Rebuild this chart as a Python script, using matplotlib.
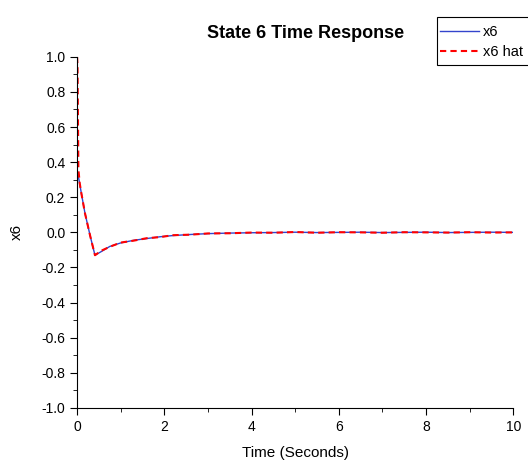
"""State 6 time response: true state vs. estimate."""

import matplotlib.pyplot as plt
from matplotlib.patches import Rectangle
from matplotlib.ticker import MultipleLocator

plt.rcParams["font.family"] = ["Liberation Sans", "DejaVu Sans"]

# true state x6
t = [0.0, 0.05, 0.1, 0.18, 0.3, 0.41, 0.55, 0.75, 1.0, 1.3, 1.6, 1.9, 2.2,
     2.6, 3.0, 3.5, 4.0, 4.5, 5.0, 5.5, 6.0, 6.5, 7.0, 7.5, 8.0, 8.5, 9.0,
     9.5, 10.0]
x6 = [0.36, 0.29, 0.22, 0.11, -0.02, -0.13, -0.11, -0.08, -0.06, -0.045,
      -0.035, -0.025, -0.018, -0.012, -0.007, -0.004, -0.002, -0.001, 0.001,
      -0.001, 0.0, 0.001, -0.001, 0.0, 0.001, -0.001, 0.0, 0.001, 0.0]

# estimate x6 hat
t_hat = [0.0, 0.01, 0.03, 0.06, 0.1, 0.18, 0.3, 0.41, 0.55, 0.75, 1.0, 1.3,
         1.6, 1.9, 2.2, 2.6, 3.0, 3.5, 4.0, 4.5, 5.0, 5.5, 6.0, 6.5, 7.0, 7.5,
         8.0, 8.5, 9.0, 9.5, 10.0]
x6_hat = [1.0, 0.95, 0.36, 0.28, 0.22, 0.11, -0.02, -0.13, -0.105, -0.082,
          -0.058, -0.047, -0.033, -0.027, -0.016, -0.013, -0.006, -0.005,
          -0.001, -0.002, 0.002, -0.002, 0.001, 0.0, -0.002, 0.001, 0.0,
          -0.001, 0.001, -0.001, 0.0]

fig = plt.figure(figsize=(5.28, 4.62), dpi=100)
ax = fig.add_axes([0.146, 0.117, 0.826, 0.76])

ax.plot(t, x6, color="#3344cc", lw=1.0, label="x6")
ax.plot(t_hat, x6_hat, color="#ff0000", lw=1.5, ls="--", dashes=(3, 2),
        label="x6 hat")

ax.set_xlim(0, 10)
ax.set_ylim(-1.0, 1.0)
ax.xaxis.set_major_locator(MultipleLocator(2))
ax.xaxis.set_minor_locator(MultipleLocator(1))
ax.yaxis.set_major_locator(MultipleLocator(0.2))
ax.yaxis.set_minor_locator(MultipleLocator(0.1))
ax.yaxis.set_major_formatter(lambda v, pos: f"{v:.1f}")
ax.tick_params(which="both", direction="out", labelsize=10)
ax.tick_params(which="major", length=5)
ax.tick_params(which="minor", length=3)
ax.spines["top"].set_visible(False)
ax.spines["right"].set_visible(False)

ax.set_xlabel("Time (Seconds)", fontsize=11, labelpad=9)
ax.set_ylabel("x6", fontsize=11)
ax.yaxis.set_label_coords(-0.122, 0.5)
fig.text(0.578, 0.928, "State 6 Time Response", ha="center", va="center",
         fontsize=13, fontweight="bold")

# legend box runs off the right edge of the figure, as in the original
fig.add_artist(Rectangle((0.828, 0.859), 0.2, 0.104, transform=fig.transFigure,
                         facecolor="white", edgecolor="black", lw=0.8))
fig.legend(loc="upper left", bbox_to_anchor=(0.816, 0.965),
           frameon=False, fontsize=10.5,
           handlelength=2.7, handletextpad=0.25, borderpad=0.6,
           borderaxespad=0.0, labelspacing=0.45)

fig.savefig("out.png", dpi=100)
